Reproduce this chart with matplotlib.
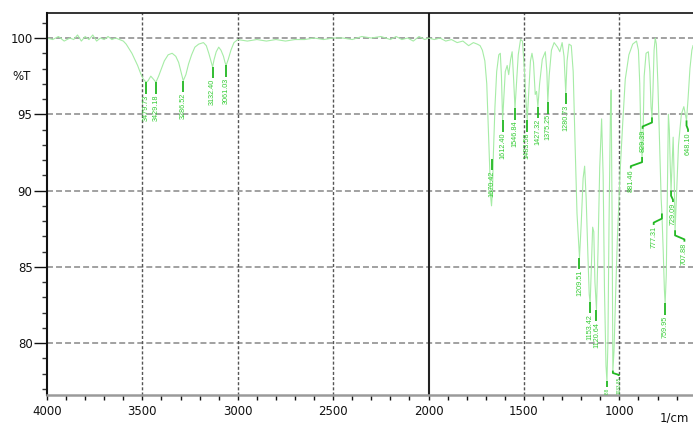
import matplotlib
matplotlib.use("Agg")
import matplotlib.pyplot as plt
from matplotlib.ticker import FixedLocator, MultipleLocator

plt.rcParams['lines.scale_dashes'] = False

# ---- spectrum (wavenumber in 1/cm, transmittance in %T)
wavenumber = [4000, 3970, 3940, 3910, 3880, 3860, 3840, 3820, 3800, 3780, 3760, 3740, 3720, 3700,
              3680, 3660, 3640, 3620, 3600, 3585, 3570, 3555, 3540, 3525, 3510, 3495, 3480, 3470,
              3456, 3442, 3429, 3415, 3400, 3385, 3365, 3344, 3325, 3310, 3298, 3286, 3272, 3258,
              3242, 3225, 3205, 3180, 3165, 3152, 3141, 3132, 3124, 3113, 3100, 3088, 3075, 3067,
              3061, 3050, 3036, 3020, 3000, 2950, 2900, 2850, 2800, 2750, 2700, 2650, 2600, 2550,
              2500, 2450, 2400, 2350, 2300, 2250, 2200, 2170, 2140, 2110, 2080, 2050, 2020, 2000,
              1970, 1940, 1910, 1880, 1850, 1820, 1790, 1765, 1745, 1730, 1718, 1705, 1695, 1688,
              1680, 1674, 1670, 1665, 1660, 1652, 1643, 1632, 1624, 1618, 1612, 1606, 1598, 1588,
              1580, 1570, 1562, 1555, 1547, 1540, 1530, 1518, 1508, 1498, 1490, 1483, 1475, 1466,
              1458, 1450, 1441, 1434, 1427, 1418, 1404, 1388, 1380, 1375, 1368, 1356, 1342, 1324,
              1312, 1300, 1290, 1281, 1274, 1264, 1252, 1242, 1232, 1222, 1209, 1200, 1190, 1182,
              1174, 1165, 1158, 1153, 1147, 1140, 1134, 1128, 1120, 1112, 1103, 1093, 1085, 1078,
              1070, 1065, 1060, 1054, 1047, 1043, 1038, 1034, 1028, 1020, 1010, 995, 982, 969,
              950, 930, 910, 900, 893, 887, 881, 876, 870, 860, 848, 840, 834, 829, 824, 818,
              812, 806, 798, 788, 781, 777, 770, 764, 760, 754, 748, 743, 738, 733, 729, 723,
              718, 712, 708, 701, 690, 675, 662, 654, 648, 640, 630, 620, 614]
transmittance = [100.0, 99.9, 100.1, 99.8, 100.0, 99.9, 100.2, 99.8, 100.1, 99.9, 100.2, 99.8, 100.0, 99.9,
                 100.1, 99.9, 100.0, 99.9, 99.8, 99.6, 99.3, 99.0, 98.6, 98.2, 97.7, 97.3, 97.1, 97.2,
                 97.5, 97.3, 97.1, 97.5, 98.0, 98.5, 98.9, 99.0, 98.8, 98.4, 97.8, 97.2, 97.6, 98.3,
                 98.9, 99.4, 99.6, 99.7, 99.5, 99.0, 98.5, 98.1, 98.6, 99.1, 99.4, 99.2, 98.8, 98.4,
                 98.2, 98.6, 99.2, 99.7, 99.9, 99.8, 99.9, 99.8, 99.9, 99.8, 99.9, 99.9, 100.0, 99.9,
                 100.0, 100.0, 99.9, 100.1, 100.0, 100.1, 99.9, 100.1, 99.9, 100.0, 99.8, 100.1, 99.9, 100.0,
                 99.9, 100.0, 99.8, 99.9, 99.7, 99.8, 99.5, 99.7, 99.6, 99.5, 99.2, 98.5, 97.0, 94.5,
                 91.5, 89.5, 89.0, 90.0, 92.5, 95.5, 97.8, 98.9, 99.0, 97.5, 94.6, 96.0, 97.8, 98.2,
                 97.6, 98.6, 99.1, 97.5, 95.4, 96.8, 98.9, 99.9, 99.8, 98.0, 96.0, 94.6, 96.5, 98.5,
                 99.0, 98.4, 96.3, 96.5, 95.5, 97.0, 98.6, 99.1, 97.8, 95.8, 97.5, 99.2, 99.7, 99.4,
                 99.1, 99.7, 98.8, 96.4, 98.5, 99.6, 99.5, 97.8, 93.0, 88.5, 85.6, 87.8, 90.8, 91.6,
                 89.5, 85.8, 83.2, 82.6, 85.0, 87.6, 87.3, 84.0, 82.2, 86.0, 91.5, 94.7, 91.0, 83.5,
                 78.5, 77.5, 80.0, 88.0, 95.0, 96.6, 88.0, 78.2, 79.5, 83.0, 87.0, 91.5, 94.5, 97.3,
                 98.9, 99.6, 99.8, 99.2, 97.0, 93.5, 92.2, 93.5, 97.5, 99.0, 99.1, 97.8, 95.5, 94.8, 96.5, 99.2,
                 100.0, 99.6, 97.0, 92.5, 89.5, 88.5, 86.0, 83.5, 82.6, 84.5, 90.0, 95.0, 94.0, 91.5, 90.0, 92.0,
                 93.5, 90.5, 87.4, 89.5, 93.0, 95.0, 95.5, 95.0, 94.6, 96.0, 98.0, 99.2, 99.5]

# ---- peak labels: peak position, %T where the marker starts, label position, text
peak_pos = [3480, 3429, 3286, 3132, 3061, 1670, 1612, 1547, 1483, 1427, 1375, 1281, 1209, 1153,
            1120, 1065, 1034, 881, 829, 777, 760, 729, 708, 648]
peak_T = [97.1, 97.1, 97.2, 98.1, 98.2, 92.1, 94.6, 95.4, 94.6, 95.5, 95.8, 96.4, 85.6, 82.7,
          82.2, 77.5, 78.2, 92.2, 94.8, 88.5, 82.6, 90.0, 87.4, 94.6]
label_pos = [3480, 3429, 3286, 3132, 3061, 1670, 1612, 1547, 1483, 1427, 1375, 1281, 1209, 1153,
             1120, 1065, 1003, 940, 878, 820, 760, 719, 659, 640]
peak_text = ['3479.73', '3429.18', '3286.52', '3132.40', '3061.03', '1670.42', '1612.40', '1546.84',
             '1483.58', '1427.32', '1375.25', '1280.73', '1209.51', '1153.42', '1120.64', '1064.88',
             '1033.85', '881.46', '829.39', '777.31', '759.95', '729.09', '707.88', '648.10']

x_ticks = [4000, 3500, 3000, 2500, 2000, 1500, 1000]
y_ticks = [80, 85, 90, 95, 100]

fig = plt.figure(figsize=(6.93, 4.23), dpi=100)
ax = fig.add_axes([47/693, 1-395/423, 1-47/693, (395-13)/423])
ax.set_xlim(4000, 614)
ax.set_ylim(76.6, 101.64)

for y in y_ticks:
    ax.axhline(y, color='#9a9a9a', lw=1.3, linestyle=(0, (4.3, 2.2)), zorder=1)
for x in [3500, 3000, 2500, 1500, 1000]:
    ax.axvline(x, color='#555555', lw=1.0, linestyle=(0, (2.2, 1.5)), zorder=1)
ax.axvline(2000, color='#222222', lw=1.5, zorder=1)

ax.plot(wavenumber, transmittance, color='#a6eca6', lw=0.8, zorder=2)

lab_col = '#33cc33'
tick_col = '#22b822'
for pw, pt, lw_, txt in zip(peak_pos, peak_T, label_pos, peak_text):
    low = pt < 79          # labels that run into the bottom of the plot
    drop = 0.35 if low else 0.75
    if abs(lw_ - pw) > 1:
        xs = [pw, pw, lw_, lw_]
        ys = [pt, pt - drop * 0.45, pt - drop * 0.8, pt - drop]
    else:
        xs = [pw, pw]
        ys = [pt, pt - drop]
    ax.plot(xs, ys, color=tick_col, lw=1.3, zorder=3, solid_capstyle='butt')
    ax.text(lw_, pt - drop - 0.05, txt, rotation=90, ha='center', va='top',
            fontsize=3.4 if low else 5.2,
            family='Liberation Sans', color=lab_col, zorder=4, clip_on=True)

ax.spines['right'].set_visible(False)
ax.spines['left'].set_color('#111111')
ax.spines['left'].set_linewidth(1.5)
ax.spines['top'].set_color('#111111')
ax.spines['top'].set_linewidth(1.2)
ax.spines['bottom'].set_color('#9a9a9a')
ax.spines['bottom'].set_linewidth(1.8)

ax.yaxis.set_major_locator(FixedLocator(y_ticks))
ax.yaxis.set_minor_locator(MultipleLocator(1))
ax.xaxis.set_major_locator(FixedLocator(x_ticks))
ax.xaxis.set_minor_locator(MultipleLocator(100))
ax.set_xticklabels([str(v) for v in x_ticks])
ax.set_yticklabels([str(v) for v in y_ticks])
ax.tick_params(axis='y', which='major', direction='out', length=9.4, width=1.0, pad=1,
               labelsize=8.5, colors='#111111')
ax.tick_params(axis='y', which='minor', direction='out', length=3.6, width=1.0, colors='#333333')
ax.tick_params(axis='x', which='both', direction='out', length=3.5, width=1.0, pad=4,
               labelsize=8.5, colors='#111111')

ax.text(-0.039, 97.5, '%T', transform=ax.get_yaxis_transform(), ha='center', va='center',
        fontsize=8.5, color='#111111')
fig.text(660/693, 1-418/423, '1/cm', ha='left', va='center', fontsize=8.5, color='#111111')

fig.savefig('out.png', dpi=100)
